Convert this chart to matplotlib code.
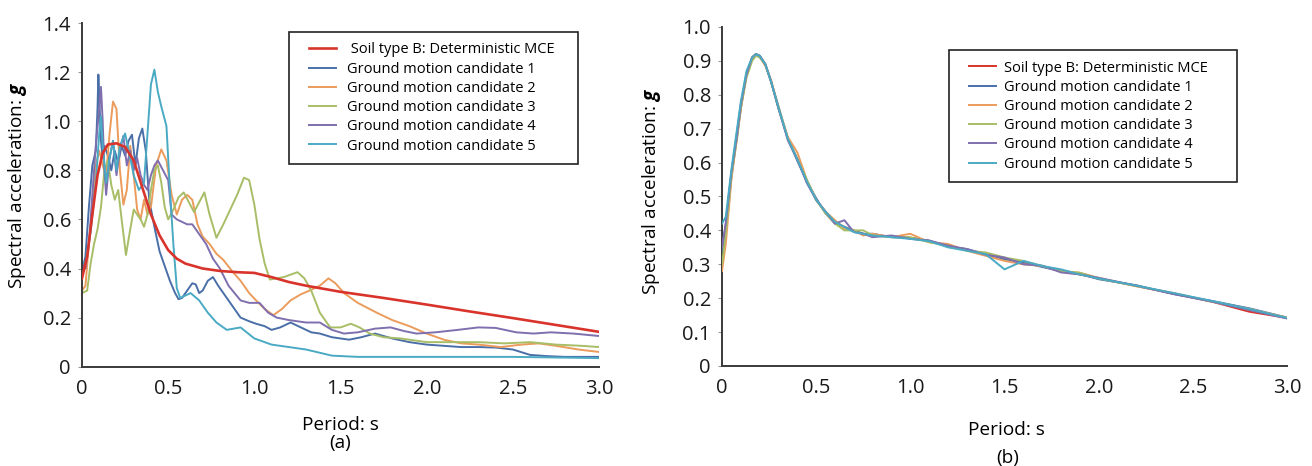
import matplotlib
matplotlib.use("Agg")
import matplotlib.pyplot as plt
from matplotlib.legend_handler import HandlerLine2D
from matplotlib.lines import Line2D

plt.rcParams['font.family'] = ['Open Sans', 'DejaVu Sans']
plt.rcParams['mathtext.fontset'] = 'custom'
plt.rcParams['mathtext.bfit'] = 'Open Sans:italic:bold'
plt.rcParams['mathtext.rm'] = 'Open Sans'

# ---------------- data: panel (a) ----------------
labels_a = [" Soil type B: Deterministic MCE", "Ground motion candidate 1",
            "Ground motion candidate 2", "Ground motion candidate 3",
            "Ground motion candidate 4", "Ground motion candidate 5"]
labels_b = ["Soil type B: Deterministic MCE", "Ground motion candidate 1",
            "Ground motion candidate 2", "Ground motion candidate 3",
            "Ground motion candidate 4", "Ground motion candidate 5"]
colors = ["#d9342b", "#4a6fa8", "#eb9c5c", "#a8be66", "#7f6fae", "#4aaac4"]

mce_a = [(0.00, 0.36), (0.03, 0.45), (0.06, 0.62), (0.09, 0.78), (0.12, 0.87), (0.15, 0.905),
         (0.20, 0.91), (0.25, 0.895), (0.30, 0.84), (0.35, 0.73), (0.40, 0.62), (0.45, 0.535),
         (0.50, 0.475), (0.55, 0.44), (0.60, 0.42), (0.70, 0.40), (0.80, 0.39), (0.90, 0.385),
         (1.00, 0.382), (1.10, 0.365), (1.20, 0.345), (1.30, 0.33), (1.50, 0.305), (1.75, 0.28),
         (2.00, 0.253), (2.25, 0.225), (2.50, 0.198), (2.75, 0.17), (3.00, 0.142)]

cand1_a = [(0.00, 0.38), (0.02, 0.45), (0.04, 0.65), (0.06, 0.82), (0.08, 0.88), (0.09, 1.05),
           (0.095, 1.19), (0.10, 1.10), (0.11, 0.92), (0.12, 0.85), (0.13, 0.90), (0.15, 0.86),
           (0.17, 0.80), (0.19, 0.88), (0.21, 0.83), (0.23, 0.90), (0.25, 0.86), (0.27, 0.92),
           (0.29, 0.945), (0.31, 0.82), (0.33, 0.93), (0.35, 0.97), (0.37, 0.88), (0.39, 0.68),
           (0.42, 0.57), (0.45, 0.47), (0.48, 0.41), (0.51, 0.35), (0.54, 0.30), (0.56, 0.275),
           (0.58, 0.28), (0.61, 0.31), (0.64, 0.34), (0.66, 0.335), (0.68, 0.30), (0.70, 0.31),
           (0.73, 0.35), (0.76, 0.365), (0.79, 0.33), (0.82, 0.30), (0.87, 0.25), (0.92, 0.20),
           (0.97, 0.185), (1.01, 0.175), (1.06, 0.165), (1.10, 0.15), (1.15, 0.16), (1.21, 0.18),
           (1.27, 0.16), (1.33, 0.14), (1.38, 0.135), (1.45, 0.12), (1.55, 0.11), (1.62, 0.12),
           (1.70, 0.135), (1.80, 0.115), (1.90, 0.10), (2.00, 0.09), (2.10, 0.085), (2.20, 0.08),
           (2.30, 0.08), (2.40, 0.078), (2.50, 0.07), (2.60, 0.048), (2.70, 0.043), (2.80, 0.04),
           (2.90, 0.04), (3.00, 0.04)]

cand2_a = [(0.00, 0.31), (0.02, 0.33), (0.04, 0.50), (0.06, 0.62), (0.08, 0.82), (0.10, 0.88),
           (0.12, 0.82), (0.14, 0.78), (0.16, 0.95), (0.18, 1.08), (0.20, 1.05), (0.22, 0.80),
           (0.24, 0.66), (0.26, 0.72), (0.28, 0.90), (0.30, 0.78), (0.32, 0.64), (0.34, 0.60),
           (0.36, 0.68), (0.38, 0.62), (0.40, 0.65), (0.43, 0.82), (0.46, 0.885), (0.49, 0.84),
           (0.52, 0.70), (0.55, 0.62), (0.58, 0.68), (0.61, 0.70), (0.64, 0.68), (0.67, 0.58),
           (0.70, 0.53), (0.74, 0.50), (0.78, 0.46), (0.82, 0.435), (0.87, 0.39), (0.92, 0.35),
           (0.97, 0.30), (1.01, 0.27), (1.06, 0.235), (1.11, 0.21), (1.16, 0.235), (1.21, 0.27),
           (1.27, 0.295), (1.32, 0.31), (1.38, 0.33), (1.43, 0.36), (1.47, 0.34), (1.52, 0.30),
           (1.60, 0.26), (1.71, 0.22), (1.80, 0.19), (1.90, 0.165), (2.00, 0.135), (2.10, 0.11),
           (2.20, 0.095), (2.30, 0.09), (2.43, 0.08), (2.55, 0.09), (2.65, 0.095), (2.75, 0.085),
           (2.88, 0.07), (3.00, 0.06)]

cand3_a = [(0.00, 0.30), (0.03, 0.31), (0.05, 0.42), (0.07, 0.50), (0.09, 0.56), (0.11, 0.65),
           (0.13, 0.80), (0.15, 0.84), (0.17, 0.74), (0.19, 0.68), (0.21, 0.72), (0.23, 0.60),
           (0.255, 0.455), (0.28, 0.56), (0.30, 0.64), (0.32, 0.62), (0.34, 0.60), (0.36, 0.57),
           (0.38, 0.62), (0.40, 0.72), (0.42, 0.80), (0.44, 0.82), (0.46, 0.75), (0.48, 0.65),
           (0.50, 0.60), (0.53, 0.64), (0.56, 0.69), (0.59, 0.71), (0.62, 0.67), (0.65, 0.63),
           (0.68, 0.67), (0.71, 0.71), (0.74, 0.62), (0.78, 0.525), (0.82, 0.58), (0.86, 0.64),
           (0.90, 0.70), (0.94, 0.77), (0.97, 0.76), (1.00, 0.66), (1.03, 0.52), (1.06, 0.42),
           (1.09, 0.355), (1.13, 0.36), (1.17, 0.365), (1.21, 0.375), (1.25, 0.385), (1.29, 0.36),
           (1.33, 0.31), (1.38, 0.22), (1.44, 0.16), (1.50, 0.16), (1.56, 0.175), (1.61, 0.16),
           (1.67, 0.135), (1.75, 0.12), (1.85, 0.115), (2.00, 0.10), (2.15, 0.10), (2.30, 0.10),
           (2.45, 0.095), (2.60, 0.10), (2.75, 0.09), (2.90, 0.085), (3.00, 0.08)]

cand4_a = [(0.00, 0.42), (0.02, 0.40), (0.04, 0.50), (0.06, 0.70), (0.08, 0.90), (0.10, 1.05),
           (0.11, 1.14), (0.12, 1.00), (0.13, 0.80), (0.14, 0.70), (0.16, 0.85), (0.18, 0.92),
           (0.20, 0.78), (0.22, 0.88), (0.24, 0.94), (0.26, 0.82), (0.28, 0.88), (0.30, 0.80),
           (0.32, 0.85), (0.34, 0.78), (0.36, 0.74), (0.38, 0.72), (0.40, 0.78), (0.42, 0.82),
           (0.44, 0.84), (0.47, 0.80), (0.50, 0.76), (0.52, 0.62), (0.55, 0.60), (0.58, 0.59),
           (0.61, 0.58), (0.64, 0.58), (0.68, 0.54), (0.72, 0.50), (0.76, 0.44), (0.80, 0.40),
           (0.85, 0.33), (0.92, 0.27), (0.97, 0.26), (1.03, 0.26), (1.08, 0.22), (1.13, 0.20),
           (1.20, 0.19), (1.30, 0.18), (1.38, 0.18), (1.45, 0.15), (1.52, 0.135), (1.60, 0.14),
           (1.70, 0.155), (1.79, 0.16), (1.87, 0.145), (1.94, 0.135), (2.05, 0.14), (2.18, 0.15),
           (2.30, 0.16), (2.40, 0.158), (2.52, 0.14), (2.62, 0.135), (2.72, 0.14), (2.85, 0.135),
           (3.00, 0.125)]

cand5_a = [(0.00, 0.43), (0.02, 0.42), (0.05, 0.55), (0.08, 0.75), (0.10, 0.95), (0.11, 1.02),
           (0.12, 0.90), (0.14, 0.75), (0.16, 0.85), (0.18, 0.92), (0.20, 0.80), (0.22, 0.90),
           (0.25, 0.95), (0.28, 0.85), (0.30, 0.78), (0.33, 0.72), (0.36, 0.75), (0.38, 0.95),
           (0.40, 1.15), (0.42, 1.21), (0.44, 1.12), (0.46, 1.06), (0.49, 0.98), (0.51, 0.72),
           (0.53, 0.50), (0.55, 0.32), (0.57, 0.28), (0.60, 0.29), (0.63, 0.30), (0.68, 0.27),
           (0.73, 0.22), (0.78, 0.18), (0.84, 0.15), (0.92, 0.16), (1.00, 0.115), (1.10, 0.09),
           (1.20, 0.08), (1.30, 0.07), (1.45, 0.045), (1.60, 0.04), (2.00, 0.04), (2.50, 0.04),
           (3.00, 0.035)]

# ---------------- data: panel (b) ----------------
period_b = [0.00, 0.02, 0.05, 0.08, 0.10, 0.13, 0.16, 0.18, 0.20, 0.23,
            0.26, 0.30, 0.35, 0.40, 0.45, 0.50, 0.55, 0.60, 0.65, 0.70,
            0.75, 0.80, 0.90, 1.00, 1.10, 1.20, 1.30, 1.40, 1.50, 1.60,
            1.70, 1.80, 1.90, 2.00, 2.20, 2.40, 2.60, 2.80, 3.00]
mce_b = [0.32, 0.40, 0.56, 0.68, 0.76, 0.86, 0.91, 0.92, 0.915, 0.89,
         0.84, 0.76, 0.67, 0.61, 0.545, 0.49, 0.455, 0.425, 0.41, 0.398,
         0.39, 0.385, 0.382, 0.378, 0.368, 0.355, 0.342, 0.33, 0.318, 0.305,
         0.294, 0.282, 0.27, 0.258, 0.236, 0.213, 0.19, 0.16, 0.142]
cand1_b = [0.34, 0.42, 0.57, 0.69, 0.77, 0.86, 0.91, 0.92, 0.915, 0.89,
           0.84, 0.765, 0.67, 0.605, 0.545, 0.495, 0.45, 0.42, 0.41, 0.40,
           0.39, 0.39, 0.38, 0.378, 0.37, 0.352, 0.345, 0.33, 0.315, 0.306,
           0.292, 0.28, 0.272, 0.256, 0.238, 0.212, 0.192, 0.17, 0.143]
cand2_b = [0.28, 0.36, 0.55, 0.68, 0.76, 0.86, 0.91, 0.92, 0.912, 0.885,
           0.845, 0.76, 0.675, 0.63, 0.55, 0.49, 0.455, 0.43, 0.405, 0.40,
           0.385, 0.39, 0.38, 0.39, 0.365, 0.36, 0.34, 0.325, 0.31, 0.30,
           0.295, 0.28, 0.275, 0.26, 0.235, 0.215, 0.19, 0.168, 0.143]
cand3_b = [0.30, 0.39, 0.56, 0.67, 0.76, 0.85, 0.90, 0.915, 0.91, 0.89,
           0.84, 0.765, 0.67, 0.61, 0.55, 0.49, 0.45, 0.42, 0.40, 0.40,
           0.40, 0.385, 0.38, 0.38, 0.365, 0.355, 0.34, 0.335, 0.32, 0.31,
           0.295, 0.28, 0.275, 0.258, 0.236, 0.214, 0.19, 0.167, 0.142]
cand4_b = [0.35, 0.42, 0.57, 0.68, 0.77, 0.86, 0.91, 0.92, 0.915, 0.89,
           0.84, 0.76, 0.665, 0.61, 0.54, 0.49, 0.455, 0.42, 0.43, 0.395,
           0.39, 0.38, 0.385, 0.375, 0.37, 0.355, 0.345, 0.328, 0.32, 0.30,
           0.296, 0.276, 0.27, 0.26, 0.237, 0.212, 0.19, 0.165, 0.14]
cand5_b = [0.42, 0.44, 0.58, 0.70, 0.78, 0.87, 0.91, 0.92, 0.915, 0.89,
           0.84, 0.76, 0.67, 0.61, 0.545, 0.49, 0.455, 0.425, 0.41, 0.395,
           0.39, 0.385, 0.38, 0.375, 0.368, 0.35, 0.34, 0.33, 0.285, 0.31,
           0.295, 0.285, 0.27, 0.258, 0.237, 0.215, 0.192, 0.168, 0.142]

xticks = [0, 0.5, 1.0, 1.5, 2.0, 2.5, 3.0]
xticklabels = ["0", "0.5", "1.0", "1.5", "2.0", "2.5", "3.0"]
yticks_a = [0, 0.2, 0.4, 0.6, 0.8, 1.0, 1.2, 1.4]
yticklabels_a = ["0", "0.2", "0.4", "0.6", "0.8", "1.0", "1.2", "1.4"]
yticks_b = [0, 0.1, 0.2, 0.3, 0.4, 0.5, 0.6, 0.7, 0.8, 0.9, 1.0]
yticklabels_b = ["0", "0.1", "0.2", "0.3", "0.4", "0.5", "0.6", "0.7", "0.8", "0.9", "1.0"]

# ---------------- figure ----------------
fig = plt.figure(figsize=(13.12, 4.66), dpi=100)
ax_a = fig.add_axes([0.0625, 0.2131, 0.3941, 0.7375])
ax_b = fig.add_axes([0.5503, 0.2146, 0.4307, 0.7275])

TICK_FS = 14.5
LAB_FS = 13.7
LEG_FS = 10.5
SPINE = "#3a3a3a"

def style(ax, yticks, yticklabels, ylim):
    ax.set_xlim(0, 3.0)
    ax.set_ylim(*ylim)
    ax.set_xticks(xticks)
    ax.set_xticklabels(xticklabels)
    ax.set_yticks(yticks)
    ax.set_yticklabels(yticklabels)
    for s in ("top", "right"):
        ax.spines[s].set_visible(False)
    for s in ("left", "bottom"):
        ax.spines[s].set_color(SPINE)
        ax.spines[s].set_linewidth(1.4)
    ax.tick_params(axis="y", direction="out", length=3, width=0.8, color="#999999",
                   labelsize=TICK_FS, pad=5, labelcolor="#1a1a1a")
    ax.tick_params(axis="x", direction="out", length=0, labelsize=TICK_FS, pad=9,
                   labelcolor="#1a1a1a")

handler = {Line2D: HandlerLine2D(xpad=0.62)}

def add_legend(ax, handles, x0, y1, w, textpad):
    leg = ax.legend(handles=handles, loc="upper left",
                    bbox_to_anchor=(x0, y1 - 0.5, w, 0.5), mode="expand",
                    fontsize=LEG_FS, frameon=True, fancybox=False, framealpha=1,
                    edgecolor="#222222", handlelength=2.53, handletextpad=textpad,
                    labelspacing=0.29, borderpad=0.72, borderaxespad=0,
                    handler_map=handler)
    leg.get_frame().set_linewidth(1.2)
    return leg

# panel (a)
series_a = [mce_a, cand1_a, cand2_a, cand3_a, cand4_a, cand5_a]
lines = []
for i, (ser, lab, col) in enumerate(zip(series_a, labels_a, colors)):
    xs = [p[0] for p in ser]
    ys = [p[1] for p in ser]
    lw = 1.9 if i == 0 else 1.4
    z = 5 if i == 0 else 2
    ln, = ax_a.plot(xs, ys, color=col, lw=lw, zorder=z, label=lab,
                    solid_joinstyle="round")
    lines.append(ln)
style(ax_a, yticks_a, yticklabels_a, (0, 1.4))
add_legend(ax_a, lines, 0.4004, 0.974, 0.559, 0.74)
ax_a.set_ylabel(r"Spectral acceleration: $\mathbfit{g}$", fontsize=LAB_FS)
ax_a.yaxis.set_label_coords(-0.124, 0.529)
ax_a.yaxis.label.set_va("center")
ax_a.set_xlabel("Period: s", fontsize=LAB_FS)
ax_a.xaxis.set_label_coords(0.499, -0.17)
ax_a.xaxis.label.set_va("center")
ax_a.text(0.499, -0.223, "(a)", transform=ax_a.transAxes, ha="center", va="center",
          fontsize=LAB_FS)

# panel (b)
series_b = [mce_b, cand1_b, cand2_b, cand3_b, cand4_b, cand5_b]
lines_b = []
for i, (ys, lab, col) in enumerate(zip(series_b, labels_b, colors)):
    ln, = ax_b.plot(period_b, ys, color=col, lw=1.4, zorder=2 + i, label=lab,
                    solid_joinstyle="round")
    lines_b.append(ln)
style(ax_b, yticks_b, yticklabels_b, (0, 1.0))
add_legend(ax_b, lines_b, 0.4018, 0.932, 0.510, 0.55)
ax_b.set_ylabel(r"Spectral acceleration: $\mathbfit{g}$", fontsize=LAB_FS)
ax_b.yaxis.set_label_coords(-0.124, 0.516)
ax_b.yaxis.label.set_va("center")
ax_b.set_xlabel("Period: s", fontsize=LAB_FS)
ax_b.xaxis.set_label_coords(0.503, -0.189)
ax_b.xaxis.label.set_va("center")
ax_b.text(0.505, -0.271, "(b)", transform=ax_b.transAxes, ha="center", va="center",
          fontsize=LAB_FS)

fig.savefig("out.png", dpi=100)
